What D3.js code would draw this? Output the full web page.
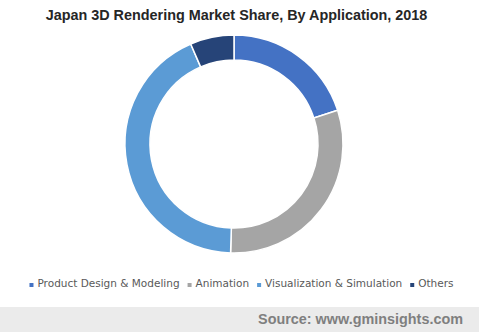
<!DOCTYPE html>
<html>
<head>
<meta charset="utf-8">
<script src="https://cdn.jsdelivr.net/npm/d3@7"></script>
<style>
  body { margin: 0; background: #fff; }
  svg { display: block; }
</style>
</head>
<body>
<div id="chart"></div>
<script>
const TITLE = 'Japan 3D Rendering Market Share, By Application, 2018';
const SOURCE = 'Source: www.gminsights.com';

const categories = ['Product Design & Modeling', 'Animation', 'Visualization & Simulation', 'Others'];
const shares = [20, 30.5, 43, 6.5];
const colors = ['#4472c4', '#a5a5a5', '#5b9bd5', '#264478'];

const width = 479, height = 332;
const center = { x: 234, y: 144 };
const outerR = 109, innerR = 84;

const svg = d3.select('#chart')
  .append('svg')
  .attr('width', width)
  .attr('height', height);

// title
svg.append('text')
  .attr('x', 236.5)
  .attr('y', 20)
  .attr('text-anchor', 'middle')
  .attr('font-family', 'Liberation Sans, Arial, sans-serif')
  .attr('font-weight', 'bold')
  .attr('font-size', 14.4)
  .attr('fill', '#262626')
  .text(TITLE);

// donut
const pie = d3.pie().sort(null).value(d => d.value);
const arc = d3.arc().innerRadius(innerR).outerRadius(outerR);
const slices = pie(categories.map((c, i) => ({ name: c, value: shares[i] })));

svg.append('g')
  .attr('transform', `translate(${center.x},${center.y})`)
  .selectAll('path')
  .data(slices)
  .enter()
  .append('path')
  .attr('d', arc)
  .attr('fill', (d, i) => colors[i])
  .attr('stroke', '#fff')
  .attr('stroke-width', 1.5);

// legend
const legend = svg.append('g').attr('class', 'legend');
const items = legend.selectAll('g')
  .data(categories)
  .enter()
  .append('g');

items.append('rect')
  .attr('width', 4)
  .attr('height', 4)
  .attr('y', -4)
  .attr('fill', (d, i) => colors[i]);

items.append('text')
  .attr('x', 8)
  .attr('font-family', 'DejaVu Sans, Verdana, sans-serif')
  .attr('font-size', 10.5)
  .attr('fill', '#595959')
  .text(d => d);

const gap = 8;
const widths = items.nodes().map(n => 8 + n.querySelector('text').getComputedTextLength());
const total = d3.sum(widths) + gap * (widths.length - 1);
let cx = (width - total) / 2 + 2;
items.attr('transform', (d, i) => {
  const x = cx;
  cx += widths[i] + gap;
  return `translate(${x},287)`;
});

// source bar
svg.append('rect')
  .attr('x', 0)
  .attr('y', 307)
  .attr('width', width)
  .attr('height', height - 307)
  .attr('fill', '#ebebeb');

svg.append('text')
  .attr('x', 463)
  .attr('y', 324)
  .attr('text-anchor', 'end')
  .attr('font-family', 'Liberation Sans, Arial, sans-serif')
  .attr('font-weight', 'bold')
  .attr('font-size', 14.4)
  .attr('fill', '#7f7f7f')
  .text(SOURCE);
</script>
</body>
</html>
